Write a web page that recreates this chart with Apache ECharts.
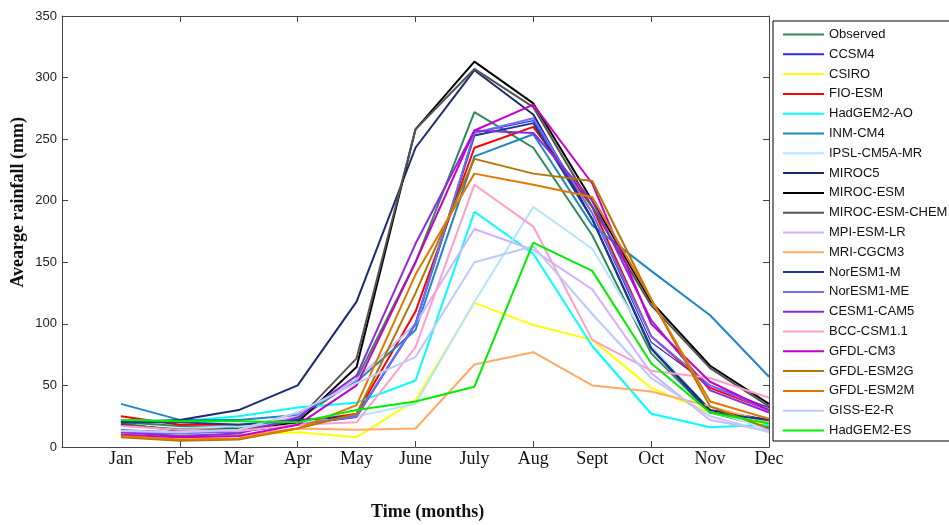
<!DOCTYPE html>
<html>
<head>
<meta charset="utf-8">
<script src="https://cdn.jsdelivr.net/npm/echarts@6/dist/echarts.min.js"></script>
<style>
html,body{margin:0;padding:0;background:#fff;}
#chart{width:949px;height:525px;}
</style>
</head>
<body>
<div id="chart"></div>
<script>
const months = ['Jan','Feb','Mar','Apr','May','June','July','Aug','Sept','Oct','Nov','Dec'];
const yTicks = [0, 50, 100, 150, 200, 250, 300, 350];

const observed     = [20, 17, 15, 22, 55, 150, 272, 243, 172, 76, 28, 16];
const ccsm4        = [14, 12, 12, 18, 24, 100, 255, 265, 190, 85, 50, 32];
const csiro        = [12, 10, 10, 12, 8, 38, 117, 99, 87, 48, 28, 18];
const fioEsm       = [25, 18, 18, 20, 27, 110, 243, 260, 195, 90, 48, 30];
const hadgem2Ao    = [22, 21, 25, 32, 36, 54, 191, 157, 82, 27, 16, 18];
const inmCm4       = [35, 22, 22, 26, 53, 95, 236, 254, 180, 143, 107, 57];
const ipslCm5aMr   = [17, 15, 17, 20, 25, 35, 118, 195, 161, 82, 30, 14];
const miroc5       = [20, 22, 30, 50, 118, 243, 306, 270, 185, 80, 30, 22];
const mirocEsm     = [18, 14, 14, 20, 65, 258, 313, 279, 200, 118, 66, 35];
const mirocEsmChem = [19, 13, 13, 22, 72, 258, 307, 276, 195, 115, 64, 33];
const mpiEsmLr     = [13, 12, 14, 25, 55, 100, 177, 160, 128, 60, 22, 13];
const mriCgcm3     = [10, 8, 9, 15, 14, 15, 67, 77, 50, 45, 33, 20];
const noresm1M     = [20, 20, 18, 22, 25, 100, 253, 263, 185, 80, 28, 22];
const noresm1Me    = [12, 11, 13, 18, 25, 100, 255, 267, 190, 90, 50, 30];
const cesm1Cam5    = [12, 9, 11, 24, 58, 165, 257, 255, 200, 103, 46, 28];
const bccCsm11     = [17, 14, 13, 18, 20, 81, 213, 179, 87, 62, 56, 40];
const gfdlCm3      = [10, 8, 9, 18, 50, 150, 257, 278, 214, 100, 53, 30];
const gfdlEsm2g    = [8, 5, 6, 15, 27, 125, 234, 222, 216, 120, 33, 15];
const gfdlEsm2m    = [9, 6, 7, 15, 34, 140, 222, 213, 203, 120, 37, 23];
const gissE2R      = [13, 12, 14, 28, 52, 73, 150, 163, 108, 56, 25, 12];
const hadgem2Es    = [22, 21, 21, 20, 30, 37, 49, 166, 143, 68, 28, 19];

const seriesNames = ['Observed','CCSM4','CSIRO','FIO-ESM','HadGEM2-AO','INM-CM4','IPSL-CM5A-MR','MIROC5','MIROC-ESM','MIROC-ESM-CHEM','MPI-ESM-LR','MRI-CGCM3','NorESM1-M','NorESM1-ME','CESM1-CAM5','BCC-CSM1.1','GFDL-CM3','GFDL-ESM2G','GFDL-ESM2M','GISS-E2-R','HadGEM2-ES'];
const seriesValues = [observed, ccsm4, csiro, fioEsm, hadgem2Ao, inmCm4, ipslCm5aMr, miroc5, mirocEsm, mirocEsmChem, mpiEsmLr, mriCgcm3, noresm1M, noresm1Me, cesm1Cam5, bccCsm11, gfdlCm3, gfdlEsm2g, gfdlEsm2m, gissE2R, hadgem2Es];
const seriesColors = ['#2e8b57','#2f2fd6','#ffff00','#ff0000','#00ffff','#1e86c8','#b4e4ff','#1b2b6e','#000000','#555555','#d2b2ff','#ffaa66','#1a3990','#6c6cff','#8a2be2','#ff9ec8','#c800c8','#b37700','#e07800','#bccbf8','#00ee00'];
const seriesWidths = [2,1.2,2,2,2,2,2,2,2,2,2,2,2,2,2,2,2,2,2,2,2];

const chart = echarts.init(document.getElementById('chart'), null, {renderer:'canvas'});

const axisColor = '#444';
const series = seriesNames.map((name, i) => ({
  name: name,
  type: 'line',
  symbol: 'none',
  showSymbol: false,
  animation: false,
  xAxisIndex: 0,
  yAxisIndex: 0,
  lineStyle: {color: seriesColors[i], width: seriesWidths[i]},
  itemStyle: {color: seriesColors[i]},
  data: seriesValues[i].map((v, j) => [j + 1, v])
}));

chart.setOption({
  animation: false,
  backgroundColor: '#fff',
  grid: {left: 62, right: 180, top: 16, bottom: 78, containLabel: false},
  xAxis: [
    {
      type: 'value', position: 'bottom', min: 0, max: 12, interval: 1,
      axisLine: {show: true, onZero: false, lineStyle: {color: axisColor, width: 1}},
      axisTick: {show: true, inside: true, length: 6, customValues: [0,2,4,6,8,10,12], lineStyle: {color: axisColor}},
      axisLabel: {
        show: true, margin: 3, customValues: [1,2,3,4,5,6,7,8,9,10,11,12],
        formatter: v => months[Math.round(v) - 1] || '',
        fontFamily: '"Liberation Serif", "Times New Roman", serif', fontSize: 18, color: '#111'
      },
      splitLine: {show: false}
    },
    {
      type: 'value', position: 'top', min: 0, max: 12, interval: 2,
      axisLine: {show: true, onZero: false, lineStyle: {color: axisColor, width: 1}},
      axisTick: {show: true, inside: true, length: 6, lineStyle: {color: axisColor}},
      axisLabel: {show: false},
      splitLine: {show: false}
    }
  ],
  yAxis: [
    {
      type: 'value', position: 'left', min: 0, max: 350, interval: 50,
      axisLine: {show: true, onZero: false, lineStyle: {color: axisColor, width: 1}},
      axisTick: {show: true, inside: true, length: 6, lineStyle: {color: axisColor}},
      axisLabel: {show: true, margin: 5, fontFamily: '"Liberation Sans", Arial, sans-serif', fontSize: 13, color: '#222',
        formatter: v => yTicks.indexOf(v) >= 0 ? String(v) : ''},
      splitLine: {show: false}
    },
    {
      type: 'value', position: 'right', min: 0, max: 350, interval: 50,
      axisLine: {show: true, onZero: false, lineStyle: {color: axisColor, width: 1}},
      axisTick: {show: true, inside: true, length: 6, lineStyle: {color: axisColor}},
      axisLabel: {show: false},
      splitLine: {show: false}
    }
  ],
  legend: {
    orient: 'vertical',
    left: 773, top: 21,
    itemWidth: 41, itemHeight: 14, itemGap: 6.8,
    padding: [7, 14, 4, 9],
    backgroundColor: '#fff',
    borderColor: '#000', borderWidth: 1,
    itemStyle: {opacity: 0},
    lineStyle: {width: 2},
    textStyle: {fontFamily: '"Liberation Sans", Arial, sans-serif', fontSize: 13, color: '#111'},
    data: seriesNames
  },
  graphic: [
    {
      type: 'text', left: 9, top: 117, rotation: Math.PI / 2,
      style: {text: 'Avearge rainfall (mm)', fontFamily: '"Liberation Serif", "Times New Roman", serif', fontWeight: 'bold', fontSize: 18, fill: '#111'},
      silent: true
    },
    {
      type: 'text', left: 371, top: 503,
      style: {text: 'Time (months)', fontFamily: '"Liberation Serif", "Times New Roman", serif', fontWeight: 'bold', fontSize: 18, fill: '#111'},
      silent: true
    }
  ],
  series: series
});
</script>
</body>
</html>
